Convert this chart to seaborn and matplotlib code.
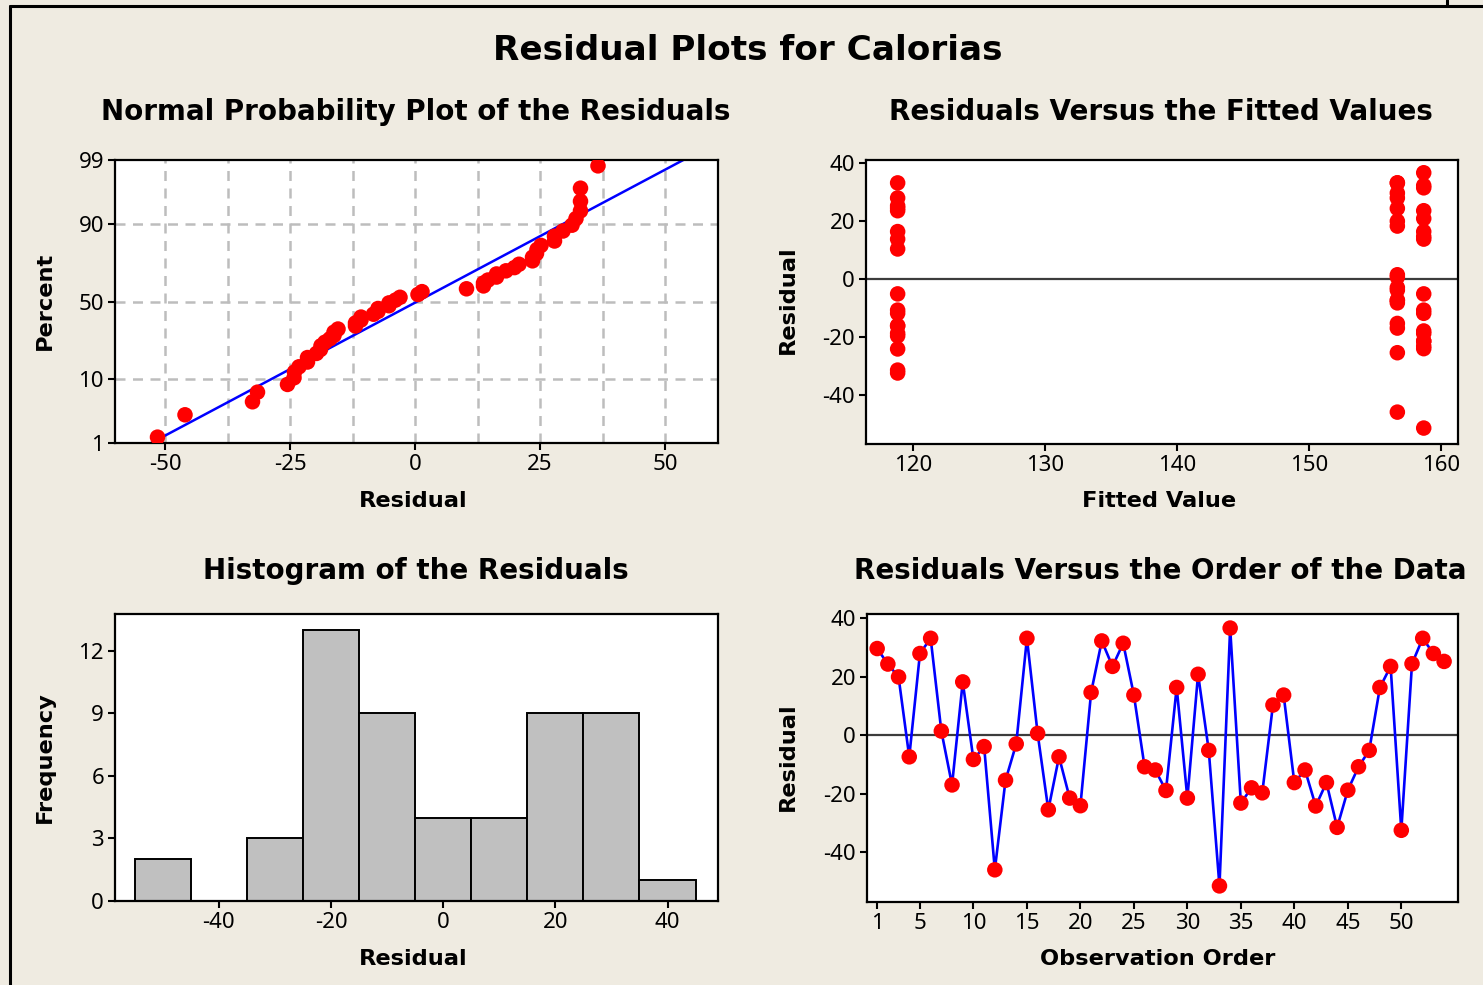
import numpy as np
import pandas as pd
import matplotlib
matplotlib.use("Agg")
import matplotlib.pyplot as plt
import matplotlib.lines as mlines
import seaborn as sns
from statistics import NormalDist

# Residuals in observation order (54 observations)
residuals = [
    29.6, 24.3, 19.9, -7.4, 27.9, 33.1, 1.4, -17.0, 18.2, -8.3,
    -3.9, -46.0, -15.4, -3.0, 33.1, 0.6, -25.5, -7.4, -21.5, -24.1,
    14.6, 32.2, 23.5, 31.4, 13.7, -10.8, -11.9, -18.9, 16.3, -21.5,
    20.8, -5.2, -51.5, 36.6, -23.2, -18.0, -19.7, 10.3, 13.7, -16.2,
    -11.9, -24.2, -16.2, -31.5, -18.8, -10.8, -5.2, 16.3, 23.5, -32.5,
    24.4, 33.1, 27.9, 25.2,
]
# Fitted value of each block of observations
fitted_levels = [156.7, 158.7, 118.8]
block_sizes = [18, 18, 18]

# Histogram bin edges
hist_edges = [-55, -45, -35, -25, -15, -5, 5, 15, 25, 35, 45]

# Tick values / labels
npp_pct_ticks = [1, 10, 50, 90, 99]
npp_x_ticks = [-50, -25, 0, 25, 50]
npp_x_grid = [-50, -37.5, -25, -12.5, 0, 12.5, 25, 37.5, 50]
fit_x_ticks = [120, 130, 140, 150, 160]
res_y_ticks = [-40, -20, 0, 20, 40]
hist_x_ticks = [-40, -20, 0, 20, 40]
hist_y_ticks = [0, 3, 6, 9, 12]
order_x_ticks = [1, 5, 10, 15, 20, 25, 30, 35, 40, 45, 50]

BG = "#EFEBE1"
RED = "#FF0000"
BLUE = "#0000FF"

sns.set_theme(style="white")
plt.rcParams["font.family"] = ["Noto Sans", "DejaVu Sans"]
plt.rcParams["axes.unicode_minus"] = False

n = len(residuals)
fitted = np.repeat(fitted_levels, block_sizes)
df = pd.DataFrame({
    "order": np.arange(1, n + 1),
    "resid": residuals,
    "fitted": fitted,
})

W, H = 1483, 985
fig = plt.figure(figsize=(W / 100, H / 100), dpi=100, facecolor=BG)


def box(l, t, r, b):
    return [l / W, 1 - b / H, (r - l) / W, (b - t) / H]


ax_npp = fig.add_axes(box(115, 160, 718, 443))
ax_fit = fig.add_axes(box(866, 160, 1458, 444))
ax_hist = fig.add_axes(box(115, 614, 718, 901))
ax_ord = fig.add_axes(box(867, 614, 1458, 902))

TICK_FS = 16
for ax in (ax_npp, ax_fit, ax_hist, ax_ord):
    ax.set_facecolor("white")
    for s in ax.spines.values():
        s.set_visible(True)
        s.set_color("black")
        s.set_linewidth(1.6)
    ax.tick_params(axis="both", which="both", direction="out", length=5,
                   width=1.5, color="black", labelsize=TICK_FS, pad=3,
                   labelcolor="black", bottom=True, left=True, top=False, right=False)

MS = 125

# --- Normal probability plot ---
nd = NormalDist()
sorted_res = np.sort(residuals)
ranks = np.arange(1, n + 1)
pp = (ranks - 0.3) / (n + 0.4)
zq = np.array([nd.inv_cdf(p) for p in pp])
npp_df = pd.DataFrame({"res": sorted_res, "z": zq})
mu = float(np.mean(residuals))
sd = float(np.std(residuals, ddof=1))
z_lo, z_hi = nd.inv_cdf(0.01), nd.inv_cdf(0.99)
zline = np.linspace(z_lo - 0.1, z_hi + 0.1, 50)
line_df = pd.DataFrame({"x": mu + sd * zline, "z": zline})

for gx in npp_x_grid:
    ax_npp.axvline(gx, color="#BDBDBD", lw=1.8, ls=(0, (4, 3)), zorder=0)
for p in [10, 50, 90]:
    ax_npp.axhline(nd.inv_cdf(p / 100), color="#BDBDBD", lw=1.8, ls=(0, (4, 3)), zorder=0)
sns.lineplot(data=line_df, x="x", y="z", ax=ax_npp, color=BLUE, lw=1.8,
             sort=False, estimator=None, zorder=2)
sns.scatterplot(data=npp_df, x="res", y="z", ax=ax_npp, color=RED, s=MS,
                edgecolor="none", zorder=3)
ax_npp.set_xlim(-60, 60.6)
ax_npp.set_ylim(z_lo, z_hi)
ax_npp.set_xticks(npp_x_ticks)
ax_npp.set_xticklabels([str(t) for t in npp_x_ticks])
ax_npp.set_yticks([nd.inv_cdf(p / 100) for p in npp_pct_ticks])
ax_npp.set_yticklabels([str(p) for p in npp_pct_ticks])

# --- Residuals vs fitted ---
ax_fit.axhline(0, color="#3C3C3C", lw=1.6, zorder=1)
sns.scatterplot(data=df, x="fitted", y="resid", ax=ax_fit, color=RED, s=MS,
                edgecolor="none", zorder=3)
ax_fit.set_xlim(116.4, 161.3)
ax_fit.set_ylim(-57, 41)
ax_fit.set_xticks(fit_x_ticks)
ax_fit.set_yticks(res_y_ticks)

# --- Histogram ---
sns.histplot(data=df, x="resid", bins=hist_edges, ax=ax_hist,
             color="#C0C0C0", edgecolor="black", linewidth=1.4, alpha=1)
ax_hist.set_xlim(-58.5, 49)
ax_hist.set_ylim(0, 13.75)
ax_hist.set_xticks(hist_x_ticks)
ax_hist.set_yticks(hist_y_ticks)

# --- Residuals vs order ---
ax_ord.axhline(0, color="#3C3C3C", lw=1.6, zorder=1)
sns.lineplot(data=df, x="order", y="resid", ax=ax_ord, color=BLUE, lw=1.9,
             estimator=None, zorder=2)
sns.scatterplot(data=df, x="order", y="resid", ax=ax_ord, color=RED, s=MS,
                edgecolor="none", zorder=3)
ax_ord.set_xlim(0.05, 55.3)
ax_ord.set_ylim(-57, 41.4)
ax_ord.set_xticks(order_x_ticks)
ax_ord.set_yticks(res_y_ticks)

for ax in (ax_npp, ax_fit, ax_hist, ax_ord):
    ax.set_xlabel("")
    ax.set_ylabel("")


# --- Titles and axis labels ---
def ftext(x, y, s, size, rot=0):
    fig.text(x / W, 1 - y / H, s, ha="center", va="center", fontsize=size,
             fontweight="bold", rotation=rot, color="black",
             family=["DejaVu Sans"])


ftext(748, 50, "Residual Plots for Calorias", 24.7)
ftext(416, 112, "Normal Probability Plot of the Residuals", 20)
ftext(1161, 112, "Residuals Versus the Fitted Values", 20)
ftext(416, 571, "Histogram of the Residuals", 20)
ftext(1160, 571, "Residuals Versus the Order of the Data", 20)

ftext(413, 501, "Residual", 16.2)
ftext(1159, 501, "Fitted Value", 16.2)
ftext(413, 959, "Residual", 16.2)
ftext(1158, 959, "Observation Order", 16.2)

ftext(45, 301, "Percent", 16.2, rot=90)
ftext(788, 300, "Residual", 16.2, rot=90)
ftext(45, 757, "Frequency", 16.2, rot=90)
ftext(788, 757, "Residual", 16.2, rot=90)

# Window frame
fig.add_artist(mlines.Line2D([10 / W, 10 / W], [0, 1 - 6 / H], color="black",
                             lw=2.2, transform=fig.transFigure))
fig.add_artist(mlines.Line2D([10 / W, 1], [1 - 6 / H, 1 - 6 / H], color="black",
                             lw=2.2, transform=fig.transFigure))
fig.add_artist(mlines.Line2D([1447 / W, 1447 / W], [1 - 6 / H, 1], color="black",
                             lw=2.2, transform=fig.transFigure))

fig.savefig("out.png", dpi=100, facecolor=BG)
